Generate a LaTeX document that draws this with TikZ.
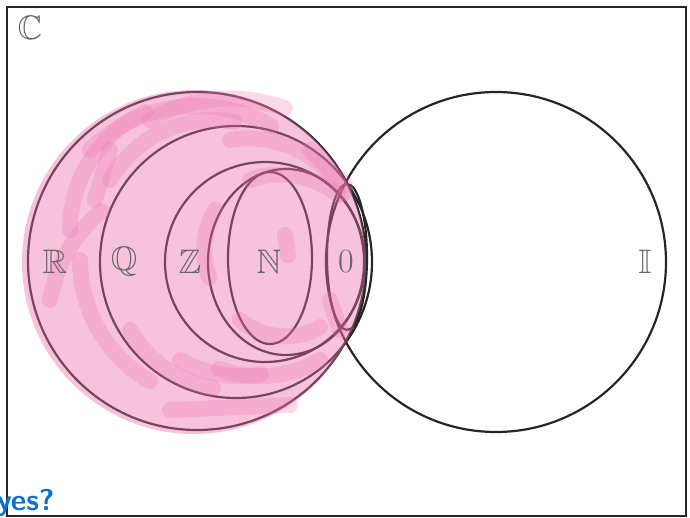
\documentclass[tikz,border=0pt]{standalone}
\usepackage{amssymb}
\usepackage{fontspec}
\definecolor{scrib}{RGB}{236,110,170}
\definecolor{inkblue}{RGB}{12,112,204}
\begin{document}
\begin{tikzpicture}[x=1pt, y=-1pt,
  lbl/.style={text=black!60, font=\fontsize{34}{40}\selectfont},
  setline/.style={line width=2.2pt, black!85},
  streak/.style={line width=16pt, line cap=round, scrib, opacity=0.26}]
\useasboundingbox (0,0) rectangle (690,517);
\draw[line width=2pt, black!85] (7,7) rectangle (686,516);
\node[lbl] (C) at (30,28) {$\mathbb{C}$};
% number sets
\draw[setline] (197,261) circle [radius=169];
\draw[setline] (236,262) circle [radius=136];
\draw[setline] (265,262) circle [radius=100];
\draw[setline] (286,262) ellipse [x radius=78, y radius=93];
\draw[setline] (270,258) ellipse [x radius=42, y radius=86];
\draw[setline] (347,257) ellipse [x radius=20, y radius=73];
\draw[setline] (496,262) circle [radius=170];
% colouring in
\fill[scrib, opacity=0.42] (194,262) circle [radius=172];
\draw[streak] (90,150) arc [start angle=-135, end angle=-60, radius=150];
\draw[streak] (70,230) arc [start angle=180, end angle=245, radius=130];
\draw[streak] (110,180) arc [start angle=-150, end angle=-80, radius=120];
\draw[streak] (80,260) arc [start angle=180, end angle=120, radius=140];
\draw[streak] (130,330) arc [start angle=150, end angle=100, radius=120];
\draw[streak] (170,410) -- (290,405);
\draw[streak] (320,360) arc [start angle=60, end angle=110, radius=120];
\draw[streak] (230,140) arc [start angle=-100, end angle=-30, radius=110];
\draw[streak] (215,210) arc [start angle=-150, end angle=-200, radius=80];
\draw[streak] (240,320) arc [start angle=130, end angle=60, radius=70];
\draw[streak] (150,120) arc [start angle=-120, end angle=-70, radius=160];
\draw[streak] (50,300) arc [start angle=190, end angle=230, radius=150];
\draw[streak] (180,360) arc [start angle=120, end angle=80, radius=120];
\draw[streak] (250,180) arc [start angle=-110, end angle=-50, radius=90];
\draw[streak] (285,235) -- (288,255);
\draw[streak] (330,300) -- (340,330);
\draw[streak] (110,150) -- (95,200);
\draw[streak] (310,150) -- (345,185);
% labels
\node[lbl] (R) at (55,262) {$\mathbb{R}$};
\node[lbl] (Q) at (124,262) {$\mathbb{Q}$};
\node[lbl] (Z) at (190,262) {$\mathbb{Z}$};
\node[lbl] (N) at (269,262) {$\mathbb{N}$};
\node[lbl] (zero) at (346,262) {0};
\node[lbl] (I) at (645,262) {$\mathbb{I}$};
\node[anchor=east, text=inkblue, font=\fontsize{30}{34}\sffamily\bfseries] (yes) at (58,503) {yes?};
\end{tikzpicture}
\end{document}
